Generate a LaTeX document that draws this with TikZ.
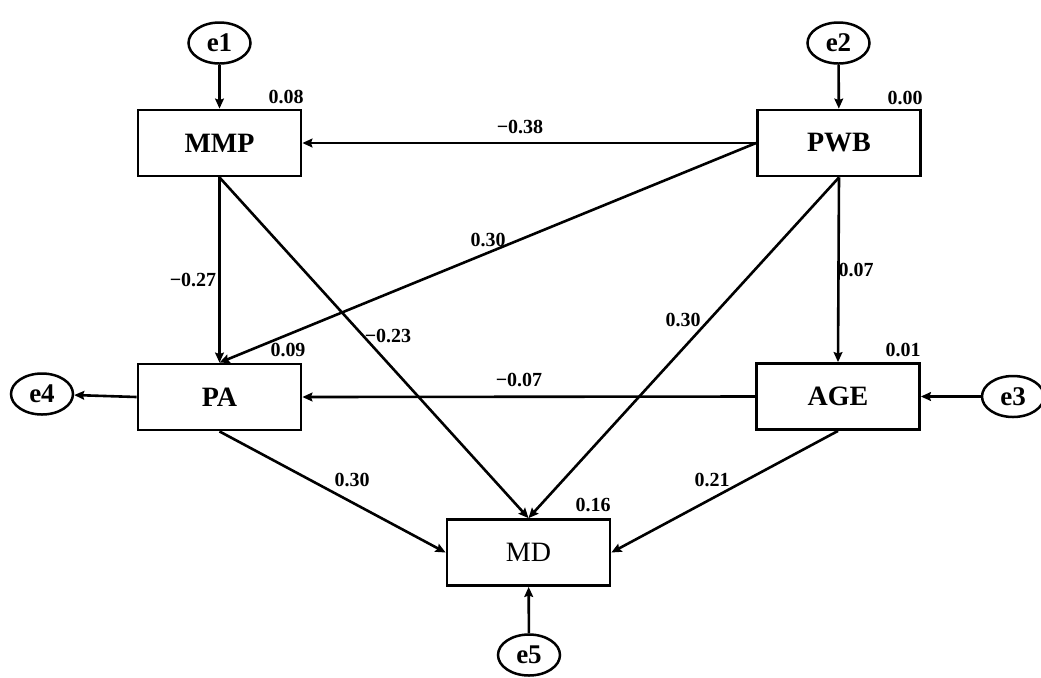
\documentclass[tikz,border=0pt]{standalone}
\usepackage{fontspec}
\setmainfont{Liberation Serif}
\usetikzlibrary{arrows.meta,shapes.geometric}
\begin{document}
\begin{tikzpicture}[x=0.5pt,y=-0.5pt,
  var/.style={draw,line width=1.4pt,minimum width=81.5pt,minimum height=33pt,inner sep=0pt,font=\fontsize{14}{16}\selectfont\bfseries},
  err/.style={draw,ellipse,line width=1.25pt,minimum width=31pt,minimum height=20.5pt,inner sep=0pt,font=\fontsize{13.5}{15}\selectfont\bfseries},
  coef/.style={inner sep=0pt,font=\fontsize{10}{12}\selectfont\bfseries},
  path/.style={line width=1.3pt,-{Stealth[length=5pt,width=4.4pt,inset=0.7pt]}}]
\useasboundingbox (0,0) rectangle (1041,677);
% boxes
\node[var] (MMP) at (219.5,143) {MMP};
\node[var] (PWB) at (839,143) {PWB};
\node[var] (PA) at (219.5,397) {PA};
\node[var] (AGE) at (838,396.5) {AGE};
\node[var,font=\fontsize{14}{16}\selectfont] (MD) at (528.5,552.5) {MD};
% errors
\node[err] (e1) at (219.5,43) {e1};
\node[err] (e2) at (838.5,43) {e2};
\node[err] (e3) at (1013,396.5) {e3};
\node[err] (e4) at (42,394) {e4};
\node[err] (e5) at (529,655) {e5};
% paths
\draw[path] (e1) -- (MMP);
\draw[path] (e2) -- (PWB);
\draw[path] (e3) -- (AGE);
\draw[path] (e5) -- (MD);
\draw[path] (PA.west) -- (e4);
\draw[path] (PWB.west) -- (MMP.east);
\draw[path] (MMP.south) -- (PA.north);
\draw[path] (MMP.south) -- (MD.north);
\draw[path] (PWB.west) -- (PA.north);
\draw[path] (PWB.south) -- (MD.north);
\draw[path] (PWB.south) -- (AGE.north);
\draw[path] (AGE.west) -- (PA.east);
\draw[path] (PA.south) -- (MD.west);
\draw[path] (AGE.south) -- (MD.east);
% coefficients
\node[coef] (r1) at (286,97) {0.08};
\node[coef] (r2) at (905,98) {0.00};
\node[coef] (r3) at (288,350) {0.09};
\node[coef] (r4) at (903,350) {0.01};
\node[coef] (r5) at (593,505) {0.16};
\node[coef] (c1) at (520,127) {−0.38};
\node[coef] (c2) at (488,240) {0.30};
\node[coef] (c3) at (193,280) {−0.27};
\node[coef] (c4) at (856,270) {0.07};
\node[coef] (c5) at (683,320) {0.30};
\node[coef] (c6) at (388,336) {−0.23};
\node[coef] (c7) at (519,380) {−0.07};
\node[coef] (c8) at (352,480) {0.30};
\node[coef] (c9) at (712,480) {0.21};
\end{tikzpicture}
\end{document}
